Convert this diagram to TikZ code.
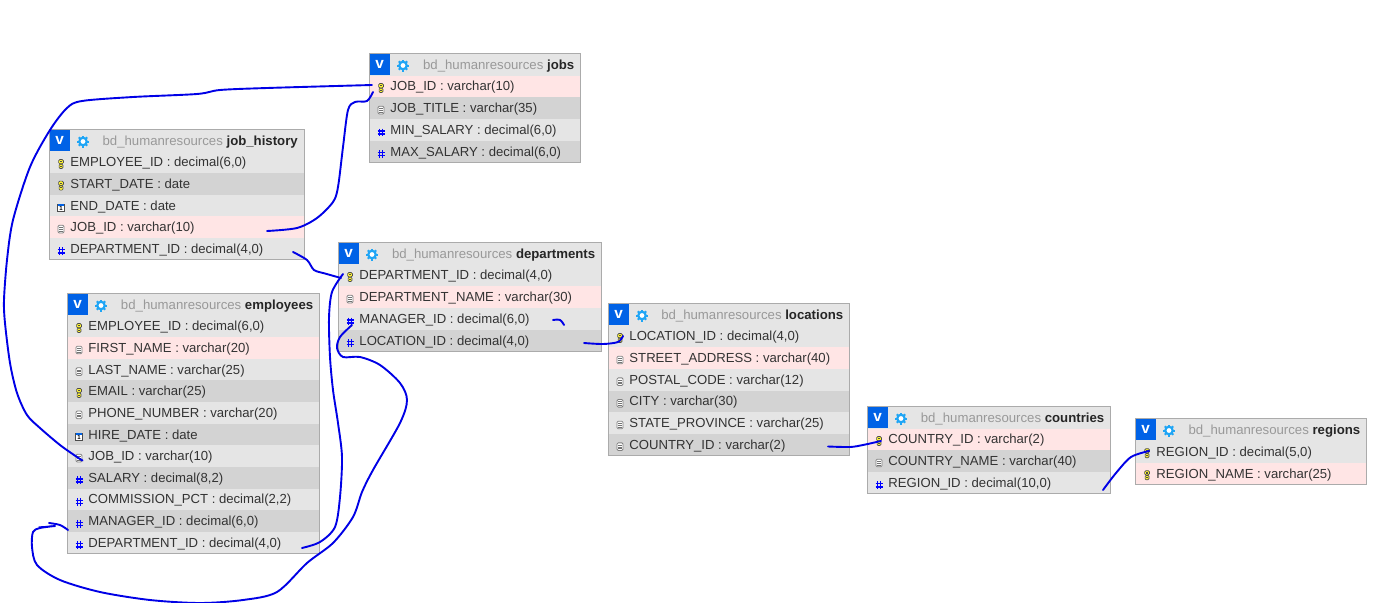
\documentclass[tikz,border=0pt]{standalone}
\usepackage{fontspec}
\setmainfont{Liberation Sans}
\newdimen\pxu \pxu=0.75pt
\definecolor{rowE}{HTML}{E5E5E5}
\definecolor{rowD}{HTML}{D3D3D3}
\definecolor{rowP}{HTML}{FFE5E5}
\definecolor{vblue}{HTML}{0062E6}
\definecolor{gearblue}{HTML}{1FA5F5}
\definecolor{edge}{HTML}{ABABAB}
\definecolor{txt}{HTML}{333333}
\definecolor{dbgrey}{HTML}{999999}
\definecolor{handblue}{HTML}{0000E6}
\tikzset{
  rowbox/.style={anchor=north west,inner sep=0pt,outer sep=0pt,minimum height=#1*\pxu},
  rowtext/.style={anchor=base west,inner sep=0pt,font=\fontsize{9.85pt}{12pt}\selectfont,text=txt},
  titletext/.style={anchor=base east,inner sep=0pt,font=\fontsize{9.9pt}{12pt}\selectfont},
  frame/.style={anchor=north west,draw=edge,line width=1\pxu,inner sep=0pt,outer sep=0pt},
  hand/.style={draw=handblue,line width=1.9\pxu,line cap=round,line join=round},
}
\newcommand\iconk[2]{\begin{scope}[shift={(#1,#2)}]
  \filldraw[fill=yellow!80!white,draw=black!70,line width=.7\pxu,rounded corners=1.2\pxu] (-2.4,-4.6) rectangle (2.4,-.3);
  \filldraw[fill=yellow!80!white,draw=black!70,line width=.7\pxu,rounded corners=1\pxu] (-1.9,.1) rectangle (1.9,4.4);
  \fill[black!70] (-.8,-3) rectangle (.8,-1.8);
  \fill[black!70] (-.6,1.6) rectangle (.6,2.6);
\end{scope}}
\newcommand\icond[2]{\begin{scope}[shift={(#1,#2)}]
  \filldraw[fill=white,draw=black!50,line width=.8\pxu,rounded corners=1.2\pxu] (-3,-3.6) rectangle (3,4);
  \draw[black!55,line width=.7\pxu] (-1.6,-1.4) -- (1.6,-1.4) (-1.6,.4) -- (1.6,.4) (-1.6,2.1) -- (1.6,2.1);
\end{scope}}
\newcommand\iconh[2]{\begin{scope}[shift={(#1,#2+.5)}]
  \draw[blue,line width=1.3\pxu] (-1.5,-3.6) -- (-1.5,4.2) (1.7,-3.6) -- (1.7,4.2) (-3.3,-1.2) -- (3.5,-1.2) (-3.3,1.9) -- (3.5,1.9);
\end{scope}}
\newcommand\icont[2]{\begin{scope}[shift={(#1,#2)}]
  \filldraw[fill=white,draw=black!70,line width=.7\pxu] (-3.3,-3.3) rectangle (3.3,3.8);
  \fill[vblue] (-3.3,-3.6) rectangle (3.3,-1.6);
  \node[inner sep=0pt,font=\fontsize{4.5pt}{5pt}\bfseries\selectfont] at (0,1.2) {1};
\end{scope}}
% id, x, y, width, height, number of rows, name, rows
\newcommand\dbtable[8]{%
  \pgfmathsetmacro\pitch{(#5-22)/#6}%
  \fill[rowE] (#2,#3) rectangle ({#2+#4},{#3+22});
  \node[rowbox=21.5,fill=vblue,minimum width=20.5*\pxu,text=white,font=\fontsize{11.5pt}{12pt}\bfseries\selectfont] (#1-v) at (#2,#3) {v};
  \begin{scope}[shift={({#2+33.5},{#3+12})}]
    \foreach \a in {0,45,...,315} \draw[gearblue,line width=2\pxu] (0,0) -- (\a:6);
    \fill[gearblue] (0,0) circle[radius=4.9*\pxu];
    \fill[white] (0,0) circle[radius=2.4*\pxu];
  \end{scope}
  \node[titletext] (#1-title) at ({#2+#4-6},{#3+16.2}) {\textcolor{dbgrey}{bd\_humanresources} \textbf{\textcolor{black!85}{#7}}};
  \foreach \rowc/\ic/\rowtxt [count=\n] in {#8}{
    \pgfmathsetmacro\ry{#3+22+(\n-1)*\pitch}
    \pgfmathsetmacro\rc{\ry+\pitch/2}
    \pgfmathsetmacro\rb{\rc+4.5}
    \pgfmathsetmacro\ixx{#2+11.5}
    \pgfmathsetmacro\iyy{\rc+1.8}
    \node[rowbox=\pitch,fill=\rowc,minimum width=#4*\pxu] (#1-\n) at (#2,\ry) {};
    \node[rowtext] (#1-\n-t) at ({#2+20.7},\rb) {\rowtxt};
    \csname icon\ic\endcsname{\ixx}{\iyy}
  }
  \node[frame,minimum width=#4*\pxu,minimum height=#5*\pxu] (#1) at (#2,#3) {};
}
\begin{document}
\begin{tikzpicture}[x=0.75pt,y=-0.75pt]
\useasboundingbox[fill=white] (0,0) rectangle (1386,603);
\dbtable{jobs}{369.5}{53.5}{211}{109}{4}{jobs}{
  rowP/k/{JOB\_ID : varchar(10)},
  rowD/d/{JOB\_TITLE : varchar(35)},
  rowE/h/{MIN\_SALARY : decimal(6,0)},
  rowD/h/{MAX\_SALARY : decimal(6,0)}}
\dbtable{hist}{49.5}{129.5}{254.5}{130}{5}{job\_history}{
  rowE/k/{EMPLOYEE\_ID : decimal(6,0)},
  rowD/k/{START\_DATE : date},
  rowE/t/{END\_DATE : date},
  rowP/d/{JOB\_ID : varchar(10)},
  rowE/h/{DEPARTMENT\_ID : decimal(4,0)}}
\dbtable{dept}{338.5}{242.5}{263}{109}{4}{departments}{
  rowE/k/{DEPARTMENT\_ID : decimal(4,0)},
  rowP/d/{DEPARTMENT\_NAME : varchar(30)},
  rowE/h/{MANAGER\_ID : decimal(6,0)},
  rowD/h/{LOCATION\_ID : decimal(4,0)}}
\dbtable{emp}{67.5}{293.5}{252}{260}{11}{employees}{
  rowE/k/{EMPLOYEE\_ID : decimal(6,0)},
  rowP/d/{FIRST\_NAME : varchar(20)},
  rowE/d/{LAST\_NAME : varchar(25)},
  rowD/k/{EMAIL : varchar(25)},
  rowE/d/{PHONE\_NUMBER : varchar(20)},
  rowD/t/{HIRE\_DATE : date},
  rowE/d/{JOB\_ID : varchar(10)},
  rowD/h/{SALARY : decimal(8,2)},
  rowE/h/{COMMISSION\_PCT : decimal(2,2)},
  rowD/h/{MANAGER\_ID : decimal(6,0)},
  rowE/h/{DEPARTMENT\_ID : decimal(4,0)}}
\dbtable{loc}{608.5}{303.5}{241}{152}{6}{locations}{
  rowE/k/{LOCATION\_ID : decimal(4,0)},
  rowP/d/{STREET\_ADDRESS : varchar(40)},
  rowE/d/{POSTAL\_CODE : varchar(12)},
  rowD/d/{CITY : varchar(30)},
  rowE/d/{STATE\_PROVINCE : varchar(25)},
  rowD/d/{COUNTRY\_ID : varchar(2)}}
\dbtable{ctry}{867.5}{406.5}{243}{87}{3}{countries}{
  rowP/k/{COUNTRY\_ID : varchar(2)},
  rowD/d/{COUNTRY\_NAME : varchar(40)},
  rowE/h/{REGION\_ID : decimal(10,0)}}
\dbtable{reg}{1135.5}{418.5}{231}{66}{2}{regions}{
  rowE/k/{REGION\_ID : decimal(5,0)},
  rowP/k/{REGION\_NAME : varchar(25)}}
% named free ends of the hand-drawn connectors
\coordinate (empJob) at (82.5,460.5);
\coordinate (jobsA) at (372,85);
\coordinate (histJob) at (267,231);
\coordinate (jobsB) at (373,92);
\coordinate (histDept) at (293,252);
\coordinate (deptA) at (341,278);
\coordinate (empDept) at (302,548);
\coordinate (deptB) at (343,274);
\coordinate (deptMgr) at (352,325);
\coordinate (empMgr) at (55,526);
\coordinate (deptLoc) at (584,343);
\coordinate (locKey) at (623,336);
\coordinate (locCtry) at (828,446.5);
\coordinate (ctryKey) at (881,441);
\coordinate (ctryReg) at (1103,490);
\coordinate (regKey) at (1149,451);
\coordinate (mgrA) at (553,320);
\coordinate (mgrB) at (564,325);
\coordinate (empMgrA) at (49,523);
\coordinate (empMgrB) at (68,530);
\coordinate (empMgrC) at (39,527);
\draw[hand] plot[smooth,tension=.5] coordinates {(empJob) (77,457) (60,445) (40,428) (27,415) (17,393) (10,363) (5,323) (4,300) (7,260) (13,220) (30,167) (50,130) (67,108) (82,101) (133,97) (197,94) (220,90) (267,88) (jobsA)};
\draw[hand] plot[smooth,tension=.5] coordinates {(histJob) (297,228) (317,218) (333,202) (338,187) (343,147) (348,110) (355,102) (367,101) (jobsB)};
\draw[hand] plot[smooth,tension=.5] coordinates {(histDept) (307,260) (314,270) (325,273.5) (deptA)};
\draw[hand] plot[smooth,tension=.5] coordinates {(empDept) (320,542) (335,527) (340,497) (342,457) (338,423) (333,390) (330,357) (329,318) (332,292) (deptB)};
\draw[hand] plot[smooth,tension=.5] coordinates {(deptMgr) (340,337) (337,348) (343,357) (360,357) (380,365) (400,383) (407,400) (400,423) (373,470) (362,492) (353,517) (333,543) (307,563) (277,592) (243,600) (200,603) (150,600) (100,592) (60,580) (37,565) (32,547) (33,532) (40,528) (empMgr)};
\draw[hand,line width=1.2\pxu] (empMgrC) -- (empMgr);
\draw[hand] plot[smooth,tension=.5] coordinates {(empMgrA) (60,525) (empMgrB)};
\draw[hand] plot[smooth,tension=.6] coordinates {(mgrA) (560,320) (mgrB)};
\draw[hand] plot[smooth,tension=.5] coordinates {(deptLoc) (603,344) (618,342) (locKey)};
\draw[hand] plot[smooth,tension=.5] coordinates {(locCtry) (850,447) (863,445) (ctryKey)};
\draw[hand] plot[smooth,tension=.5] coordinates {(ctryReg) (1116,473) (1131,457) (regKey)};
\end{tikzpicture}
\end{document}
